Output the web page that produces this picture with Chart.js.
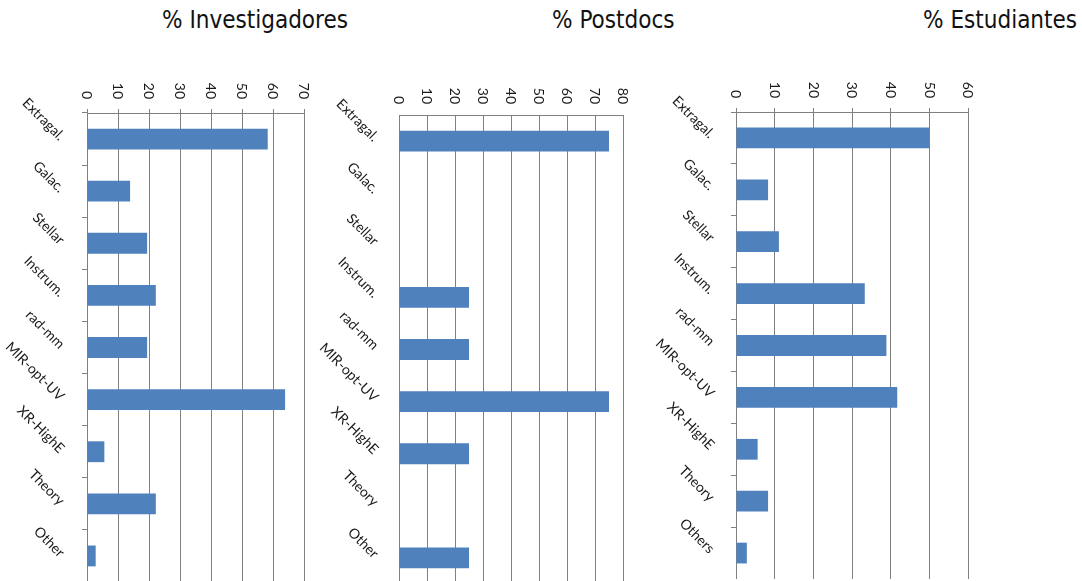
<!DOCTYPE html>
<html>
<head>
<meta charset="utf-8">
<script src="https://cdn.jsdelivr.net/npm/chart.js@4/dist/chart.umd.min.js"></script>
<style>
  html, body { margin: 0; padding: 0; background: #ffffff; }
  body { width: 1082px; height: 581px; overflow: hidden; position: relative; }
  canvas { position: absolute; top: 0; }
  .ttl {
    position: absolute; top: 8px; margin: 0;
    font-family: 'DejaVu Sans Condensed', 'DejaVu Sans', sans-serif;
    font-stretch: condensed; font-size: 24px; line-height: 24px;
    color: #111111; white-space: nowrap;
  }
</style>
</head>
<body>
<div class="ttl" style="left:162px">% Investigadores</div>
<div class="ttl" style="left:552px">% Postdocs</div>
<div class="ttl" style="left:923px">% Estudiantes</div>
<canvas id="cInv" width="330" height="582" style="left:0px"></canvas>
<canvas id="cPost" width="370" height="584" style="left:290px"></canvas>
<canvas id="cEst" width="462" height="579" style="left:620px"></canvas>
<script>
// Research areas (the student panel calls the last group "Others")
const areas = ['Extragal.', 'Galac.', 'Stellar', 'Instrum.', 'rad-mm', 'MIR-opt-UV', 'XR-HighE', 'Theory', 'Other'];
const areasEst = ['Extragal.', 'Galac.', 'Stellar', 'Instrum.', 'rad-mm', 'MIR-opt-UV', 'XR-HighE', 'Theory', 'Others'];

// Percentage of each group working in each area
const pctInvestigadores = [58.3, 13.9, 19.4, 22.2, 19.4, 63.9, 5.6, 22.2, 2.8];
const pctPostdocs = [75, 0, 0, 25, 25, 75, 25, 0, 25];
const pctEstudiantes = [50, 8.3, 11.1, 33.3, 38.9, 41.7, 5.6, 8.3, 2.8];

// Value-axis tick labels
const ticksInv = ['0', '10', '20', '30', '40', '50', '60', '70'];
const ticksPost = ['0', '10', '20', '30', '40', '50', '60', '70', '80'];
const ticksEst = ['0', '10', '20', '30', '40', '50', '60'];

const BAR = '#4F81BD';
const GRID = '#808080';
const TEXT = '#1a1a1a';

// Draws the value labels turned a quarter clockwise above the top axis and
// the area names slanted at 45 degrees to the left of the category axis.
const slantedLabels = {
  id: 'slantedLabels',
  afterDraw(chart, args, o) {
    const { ctx } = chart;
    const xs = chart.scales.x, ys = chart.scales.y;
    ctx.save();
    ctx.fillStyle = TEXT;
    ctx.textAlign = 'right';
    ctx.textBaseline = 'middle';

    ctx.font = '14px Lato, "Open Sans", sans-serif';
    o.tickLabels.forEach(lab => {
      const px = xs.getPixelForValue(Number(lab));
      ctx.save();
      ctx.translate(px, o.tickEnd);
      ctx.rotate(Math.PI / 2);
      ctx.fillText(lab, 0, 0);
      ctx.restore();
    });

    ctx.font = '14px Lato, "Open Sans", sans-serif';
    chart.data.labels.forEach((lab, i) => {
      const py = ys.getPixelForValue(i);
      ctx.save();
      ctx.translate(xs.left - o.catGap, py + o.catShift);
      ctx.rotate(Math.PI / 4);
      ctx.fillText(lab, 0, 0);
      ctx.restore();
    });
    ctx.restore();
  }
};

function panel(id, labels, values, ticks, cfg) {
  const max = Number(ticks[ticks.length - 1]);
  return new Chart(document.getElementById(id), {
    type: 'bar',
    data: {
      labels: labels,
      datasets: [{
        data: values,
        backgroundColor: BAR,
        borderWidth: 0,
        barPercentage: 0.4,
        categoryPercentage: 1.0
      }]
    },
    options: {
      indexAxis: 'y',
      responsive: false,
      maintainAspectRatio: false,
      animation: false,
      devicePixelRatio: 1,
      layout: { padding: { left: 0, top: 0, right: cfg.padRight, bottom: 0 } },
      plugins: {
        legend: { display: false },
        tooltip: { enabled: false },
        title: { display: false },
        slantedLabels: { tickLabels: ticks, tickEnd: cfg.tickEnd, catGap: cfg.catGap, catShift: cfg.catShift }
      },
      scales: {
        x: {
          type: 'linear',
          position: 'top',
          min: 0,
          max: max,
          ticks: { display: false, stepSize: 10 },
          grid: { color: GRID, lineWidth: 1, drawTicks: cfg.valueTicks, tickLength: 4 },
          border: { display: true, color: GRID, width: 1 },
          afterFit: s => { s.height = cfg.topH; }
        },
        y: {
          type: 'category',
          ticks: { display: false },
          grid: {
            display: cfg.catTicks,
            offset: true,
            drawOnChartArea: false,
            drawTicks: true,
            tickLength: 5,
            color: GRID
          },
          border: { display: true, color: GRID, width: 1 },
          afterFit: s => { s.width = cfg.leftW; }
        }
      }
    },
    plugins: [slantedLabels]
  });
}

panel('cInv', areas, pctInvestigadores, ticksInv,
  { topH: 113, leftW: 87, padRight: 26, tickEnd: 99, catGap: 25, catShift: -1, valueTicks: true, catTicks: true });
panel('cPost', areas, pctPostdocs, ticksPost,
  { topH: 115, leftW: 109, padRight: 37, tickEnd: 104, catGap: 23, catShift: -2, valueTicks: false, catTicks: false });
panel('cEst', areasEst, pctEstudiantes, ticksEst,
  { topH: 112, leftW: 116, padRight: 114, tickEnd: 98, catGap: 24, catShift: -2, valueTicks: true, catTicks: true });
</script>
</body>
</html>
